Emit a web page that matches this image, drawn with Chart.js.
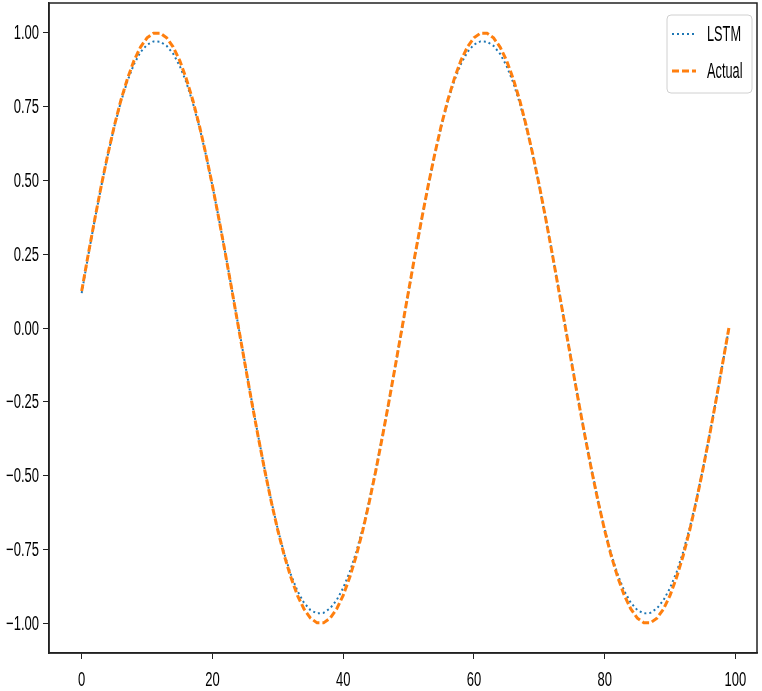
<!DOCTYPE html>
<html>
<head>
<meta charset="utf-8">
<script src="https://cdn.jsdelivr.net/npm/chart.js@4"></script>
<style>
  body { margin: 0; background: #fff; }
  #wrap { width: 762px; height: 691px; position: relative; }
</style>
</head>
<body>
<div id="wrap"><canvas id="sineChart"></canvas></div>
<script>
// Values (time steps 0..99)
const actualValues = [
  0.125, 0.249, 0.368, 0.482, 0.588, 0.685, 0.771, 0.844, 0.905, 0.951,
  0.982, 0.998, 0.998, 0.982, 0.951, 0.905, 0.844, 0.771, 0.685, 0.588,
  0.482, 0.368, 0.249, 0.125, 0.000, -0.125, -0.249, -0.368, -0.482, -0.588,
  -0.685, -0.771, -0.844, -0.905, -0.951, -0.982, -0.998, -0.998, -0.982, -0.951,
  -0.905, -0.844, -0.771, -0.685, -0.588, -0.482, -0.368, -0.249, -0.125, 0.000,
  0.125, 0.249, 0.368, 0.482, 0.588, 0.685, 0.771, 0.844, 0.905, 0.951,
  0.982, 0.998, 0.998, 0.982, 0.951, 0.905, 0.844, 0.771, 0.685, 0.588,
  0.482, 0.368, 0.249, 0.125, 0.000, -0.125, -0.249, -0.368, -0.482, -0.588,
  -0.685, -0.771, -0.844, -0.905, -0.951, -0.982, -0.998, -0.998, -0.982, -0.951,
  -0.905, -0.844, -0.771, -0.685, -0.588, -0.482, -0.368, -0.249, -0.125, 0.000
];

const lstmValues = [
  0.118, 0.245, 0.366, 0.480, 0.586, 0.682, 0.766, 0.836, 0.893, 0.934,
  0.959, 0.970, 0.969, 0.955, 0.928, 0.887, 0.832, 0.762, 0.680, 0.586,
  0.481, 0.368, 0.250, 0.127, 0.003, -0.121, -0.246, -0.365, -0.479, -0.585,
  -0.681, -0.765, -0.835, -0.890, -0.930, -0.955, -0.966, -0.964, -0.949, -0.921,
  -0.880, -0.826, -0.758, -0.677, -0.584, -0.479, -0.366, -0.248, -0.126, -0.002,
  0.122, 0.246, 0.366, 0.480, 0.586, 0.682, 0.766, 0.837, 0.893, 0.934,
  0.959, 0.970, 0.969, 0.955, 0.928, 0.887, 0.831, 0.762, 0.680, 0.586,
  0.481, 0.368, 0.250, 0.127, 0.003, -0.121, -0.246, -0.365, -0.479, -0.585,
  -0.681, -0.765, -0.835, -0.890, -0.930, -0.955, -0.966, -0.964, -0.949, -0.921,
  -0.880, -0.826, -0.758, -0.677, -0.584, -0.479, -0.366, -0.248, -0.126, -0.002
];

const xTicks = [0, 20, 40, 60, 80, 100];
const yTicks = [-1.00, -0.75, -0.50, -0.25, 0.00, 0.25, 0.50, 0.75, 1.00];

const seriesNames = ['LSTM', 'Actual'];
const seriesColors = ['#1f77b4', '#ff7f0e'];
const seriesDash = [[2, 3], [7, 3]];
const seriesWidth = [2, 3];

// the reference text is strongly squeezed horizontally
const TICK_FONT = "20px 'Liberation Sans', Arial, sans-serif";
const LEGEND_FONT = "22px 'Liberation Sans', Arial, sans-serif";

const toPoints = vals => vals.map((v, i) => ({ x: i, y: v }));
const fmtY = v => (v < 0 ? '\u2212' : '') + Math.abs(v).toFixed(2);

function squeezedText(ctx, text, x, y, align, k) {
    ctx.save();
    ctx.translate(x, y);
    ctx.scale(k, 1);
    ctx.textAlign = align;
    ctx.fillText(text, 0, 0);
    ctx.restore();
}

// Frame, tick labels and a matplotlib-like legend box
const framePlugin = {
    id: 'frame',
    afterDraw(chart) {
        const { ctx, chartArea: a, scales } = chart;
        ctx.save();
        ctx.strokeStyle = '#222';
        ctx.lineWidth = 1.5;
        ctx.strokeRect(a.left, a.top, a.right - a.left, a.bottom - a.top);

        ctx.font = TICK_FONT;
        ctx.fillStyle = '#000';
        ctx.textBaseline = 'middle';
        yTicks.forEach(v => {
            squeezedText(ctx, fmtY(v), a.left - 10, scales.y.getPixelForValue(v) + 1, 'right', 0.65);
        });
        xTicks.forEach(v => {
            squeezedText(ctx, String(v), scales.x.getPixelForValue(v), a.bottom + 27, 'center', 0.65);
        });

        // legend
        const bx = a.right - 90, by = a.top + 12, bw = 85, bh = 78, r = 4;
        ctx.beginPath();
        ctx.roundRect(bx, by, bw, bh, r);
        ctx.fillStyle = 'rgba(255,255,255,0.8)';
        ctx.fill();
        ctx.strokeStyle = '#d0d0d0';
        ctx.lineWidth = 1;
        ctx.stroke();

        ctx.font = LEGEND_FONT;
        seriesNames.forEach((name, i) => {
            const y = by + 19 + i * 37;
            ctx.beginPath();
            ctx.setLineDash(seriesDash[i]);
            ctx.strokeStyle = seriesColors[i];
            ctx.lineWidth = seriesWidth[i];
            ctx.moveTo(bx + 5, y);
            ctx.lineTo(bx + 29, y);
            ctx.stroke();
            ctx.setLineDash([]);
            ctx.fillStyle = '#000';
            squeezedText(ctx, name, bx + 40, y + 1, 'left', 0.58);
        });
        ctx.restore();
    }
};

new Chart(document.getElementById('sineChart'), {
    type: 'line',
    data: {
        datasets: [
            {
                label: seriesNames[0],
                data: toPoints(lstmValues),
                borderColor: seriesColors[0],
                borderWidth: seriesWidth[0],
                borderDash: seriesDash[0],
                pointRadius: 0,
                tension: 0,
                fill: false,
                order: 1
            },
            {
                label: seriesNames[1],
                data: toPoints(actualValues),
                borderColor: seriesColors[1],
                borderWidth: seriesWidth[1],
                borderDash: seriesDash[1],
                pointRadius: 0,
                tension: 0,
                fill: false,
                order: 0
            }
        ]
    },
    options: {
        responsive: true,
        maintainAspectRatio: false,
        animation: false,
        layout: { padding: { top: 3, right: 5, left: 0, bottom: 0 } },
        plugins: {
            legend: { display: false },
            tooltip: { enabled: false }
        },
        scales: {
            x: {
                type: 'linear',
                min: -5,
                max: 103.3,
                afterFit(scale) {
                    scale.height = 38;
                    scale.paddingLeft = 0;
                    scale.paddingRight = 0;
                },
                afterBuildTicks(scale) { scale.ticks = xTicks.map(v => ({ value: v })); },
                grid: { drawOnChartArea: false, drawTicks: true, tickLength: 6, color: '#222' },
                border: { display: true, color: '#222', width: 1.5 },
                ticks: { display: false }
            },
            y: {
                min: -1.1,
                max: 1.1,
                afterFit(scale) {
                    scale.width = 49;
                    scale.paddingTop = 0;
                    scale.paddingBottom = 0;
                },
                afterBuildTicks(scale) { scale.ticks = yTicks.map(v => ({ value: v })); },
                grid: { drawOnChartArea: false, drawTicks: true, tickLength: 6, color: '#222' },
                border: { display: true, color: '#222', width: 1.5 },
                ticks: { display: false }
            }
        }
    },
    plugins: [framePlugin]
});
</script>
</body>
</html>
